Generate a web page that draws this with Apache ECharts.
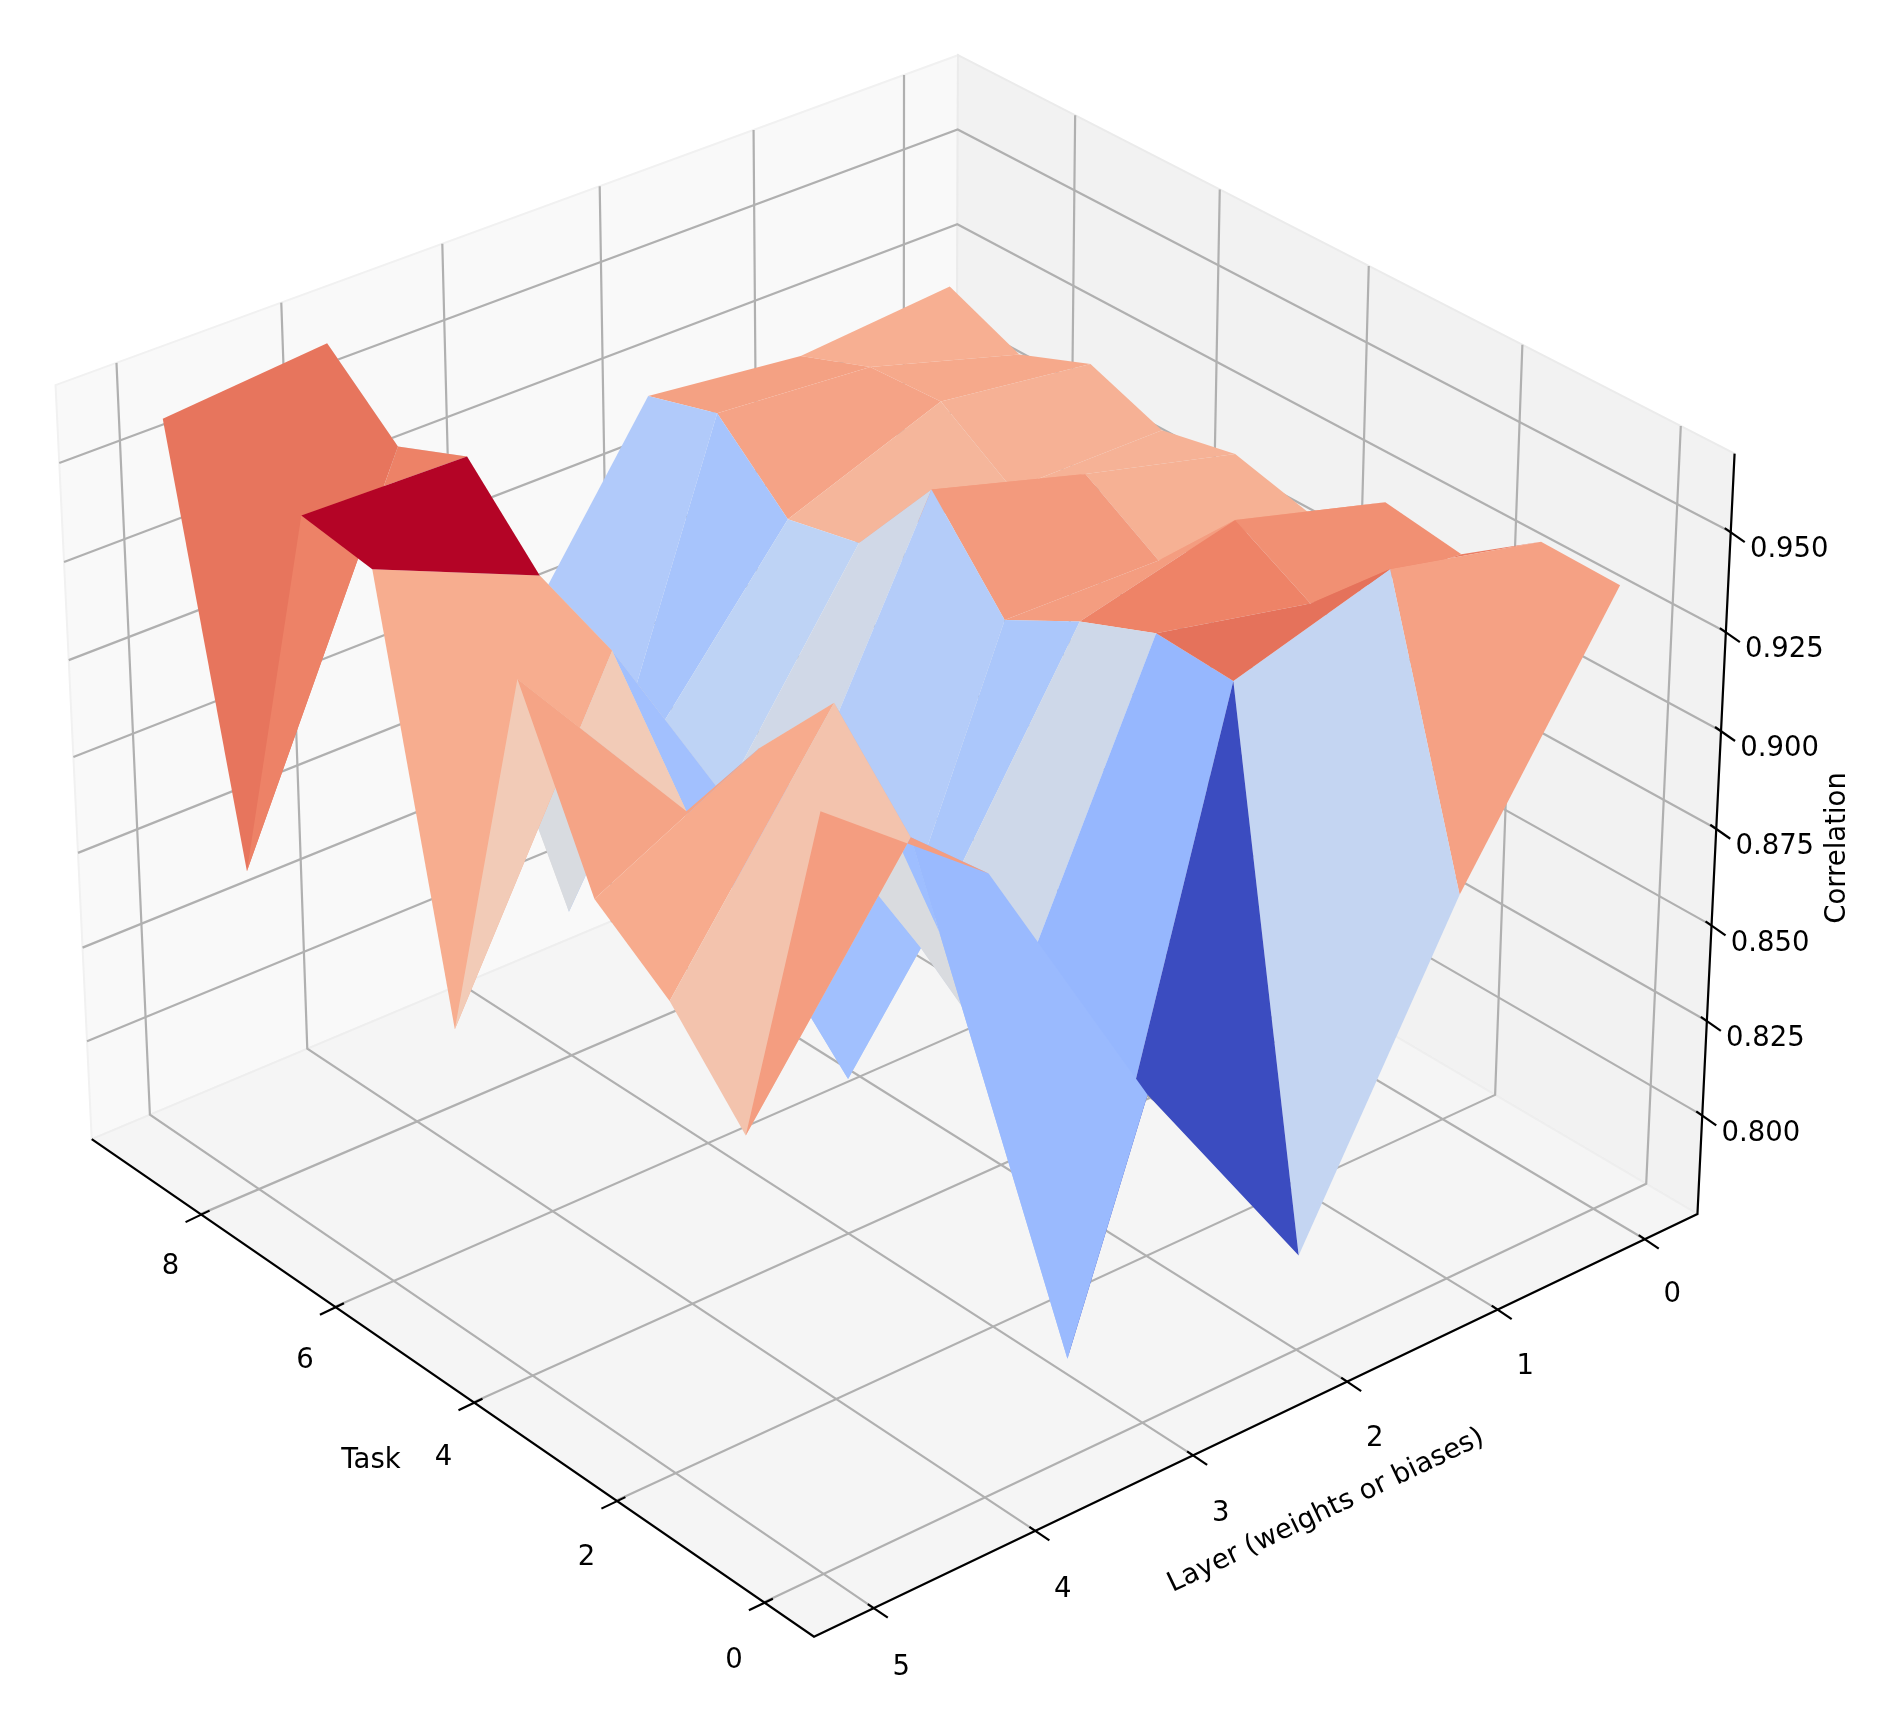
<!DOCTYPE html>
<html>
<head>
<meta charset="utf-8">
<title>Correlation surface</title>
<script src="https://cdn.jsdelivr.net/npm/echarts@6/dist/echarts.min.js"></script>
<style>
  html, body { margin: 0; padding: 0; background: #fff; }
  #chart { width: 1903px; height: 1720px; }
</style>
</head>
<body>
<div id="chart"></div>
<script>
// tick labels
const taskTicks = [0, 2, 4, 6, 8]
const layerTicks = [0, 1, 2, 3, 4, 5]
const corrTicks = [0.8, 0.825, 0.85, 0.875, 0.9, 0.925, 0.95]

// correlation per task (0..9), one list per layer
const tasks = [0, 1, 2, 3, 4, 5, 6, 7, 8, 9]
const layer0 = [0.9355, 0.9359, 0.9222, 0.9250, 0.9119, 0.9168, 0.9127, 0.9199, 0.9124, 0.9204]
const layer1 = [0.8739, 0.9450, 0.9258, 0.9363, 0.9155, 0.9272, 0.9130, 0.9254, 0.9243, 0.9171]
const layer2 = [0.7985, 0.9334, 0.9345, 0.9267, 0.9164, 0.9389, 0.9149, 0.9105, 0.9276, 0.9219]
const layer3 = [0.8584, 0.7777, 0.8452, 0.8606, 0.8147, 0.8595, 0.8561, 0.8616, 0.8126, 0.8631]
const layer4 = [0.9309, 0.9284, 0.9501, 0.9280, 0.9012, 0.9304, 0.9385, 0.9578, 0.9500, 0.9658]
const layer5 = [0.9629, 0.8725, 0.8940, 0.9077, 0.9506, 0.8517, 0.9561, 0.9588, 0.8578, 0.9622]
const surface = [layer0, layer1, layer2, layer3, layer4, layer5]

const coolwarm = ['#3b4cc0', '#5977e3', '#7b9ff9', '#9ebeff', '#c0d4f5', '#dddcdc', '#f2cbb7', '#f7ac8e', '#ee8468', '#d65244', '#b40426']

// axis box of the 3d view
const taskMin = -0.665, taskMax = 9.665
const layerMin = -0.364, layerMax = 5.364
const corrMin = 0.7736, corrMax = 0.9694
const boxX = 1.1905, boxZ = 0.8929

// camera, elev 30 azim 140, distance 10
const elev = 30 * Math.PI / 180
const azim = 140 * Math.PI / 180
const w = [Math.cos(elev) * Math.cos(azim), Math.cos(elev) * Math.sin(azim), Math.sin(elev)]
const u = [-Math.sin(azim), Math.cos(azim), 0]
const v = [w[1] * u[2] - w[2] * u[1], w[2] * u[0] - w[0] * u[2], w[0] * u[1] - w[1] * u[0]]

function view (task, layer, corr) {
  const p = [
    ((task - taskMin) / (taskMax - taskMin) - 0.5) * boxX,
    ((layer - layerMin) / (layerMax - layerMin) - 0.5) * boxX,
    ((corr - corrMin) / (corrMax - corrMin) - 0.5) * boxZ
  ]
  const dot = function (a) { return a[0] * p[0] + a[1] * p[1] + a[2] * p[2] }
  const d = 10 - dot(w)
  return { x: dot(u) / d, y: dot(v) / d, d: d }
}
function project (task, layer, corr) {
  const r = view(task, layer, corr)
  return [r.x, r.y]
}

// surface cells, far ones first like a painter
const cells = []
for (let l = 0; l < surface.length - 1; l++) {
  for (let t = 0; t < tasks.length - 1; t++) {
    const corners = [[t, l], [t + 1, l], [t + 1, l + 1], [t, l + 1]]
    let mean = 0, depth = 0
    corners.forEach(function (c) {
      mean += surface[c[1]][c[0]] / 4
      depth += -1 / view(tasks[c[0]], c[1], surface[c[1]][c[0]]).d / 4
    })
    cells.push({ value: [t, l, mean, depth] })
  }
}
cells.sort(function (a, b) { return b.value[3] - a.value[3] })
const meanMin = Math.min.apply(null, cells.map(function (c) { return c.value[2] }))
const meanMax = Math.max.apply(null, cells.map(function (c) { return c.value[2] }))

const font = '27.5px "DejaVu Sans"'

function polygon (api, pts, fill, stroke) {
  return {
    type: 'polygon',
    shape: { points: pts.map(function (p) { return api.coord(project(p[0], p[1], p[2])) }) },
    style: { fill: fill, stroke: stroke || null, lineWidth: stroke ? 2 : 0 }
  }
}
function line (api, pts, color) {
  return {
    type: 'polyline',
    shape: { points: pts.map(function (p) { return api.coord(project(p[0], p[1], p[2])) }) },
    style: { fill: null, stroke: color, lineWidth: 2.2 }
  }
}
function tick (api, p, out, inn, text, off) {
  const c = api.coord(project(p[0], p[1], p[2]))
  return {
    type: 'group',
    children: [
      { type: 'line', shape: { x1: c[0] + inn[0], y1: c[1] + inn[1], x2: c[0] + out[0], y2: c[1] + out[1] }, style: { stroke: '#000', lineWidth: 2.2 } },
      { type: 'text', x: c[0] + off[0], y: c[1] + off[1], style: { text: text, font: font, fill: '#000', align: 'center', verticalAlign: 'middle' } }
    ]
  }
}

const chart = echarts.init(document.getElementById('chart'))
chart.setOption({
  animation: false,
  backgroundColor: '#fff',
  grid: { left: 0, right: 0, top: 0, bottom: 0 },
  xAxis: { type: 'value', show: false, min: -889.6 / 9787, max: (1903 - 889.6) / 9787 },
  yAxis: { type: 'value', show: false, min: (806.2 - 1720) / 9787, max: 806.2 / 9787 },
  graphic: [
    { type: 'text', x: 371, y: 1461, style: { text: 'Task', font: font, fill: '#000', align: 'center', verticalAlign: 'middle' } },
    { type: 'text', x: 1326, y: 1511, rotation: 0.445, style: { text: 'Layer (weights or biases)', font: font, fill: '#000', align: 'center', verticalAlign: 'middle' } },
    { type: 'text', x: 1838, y: 848, rotation: Math.PI / 2, style: { text: 'Correlation', font: font, fill: '#000', align: 'center', verticalAlign: 'middle' } }
  ],
  series: [
    {
      // walls and floor
      type: 'custom', silent: true, clip: false, data: [[0]],
      renderItem: function (params, api) {
        return {
          type: 'group',
          children: [
            polygon(api, [[taskMax, layerMin, corrMin], [taskMax, layerMax, corrMin], [taskMax, layerMax, corrMax], [taskMax, layerMin, corrMax]], '#f9f9f9', '#f1f1f1'),
            polygon(api, [[taskMin, layerMin, corrMin], [taskMax, layerMin, corrMin], [taskMax, layerMin, corrMax], [taskMin, layerMin, corrMax]], '#f2f2f2', '#ebebeb'),
            polygon(api, [[taskMin, layerMin, corrMin], [taskMax, layerMin, corrMin], [taskMax, layerMax, corrMin], [taskMin, layerMax, corrMin]], '#f5f5f5', '#eeeeee')
          ]
        }
      }
    },
    {
      // grid lines on floor and walls
      type: 'custom', silent: true, clip: false, data: [[0]],
      renderItem: function (params, api) {
        const kids = []
        taskTicks.forEach(function (t) {
          kids.push(line(api, [[t, layerMax, corrMin], [t, layerMin, corrMin], [t, layerMin, corrMax]], '#b0b0b0'))
        })
        layerTicks.forEach(function (l) {
          kids.push(line(api, [[taskMin, l, corrMin], [taskMax, l, corrMin], [taskMax, l, corrMax]], '#b0b0b0'))
        })
        corrTicks.forEach(function (z) {
          kids.push(line(api, [[taskMax, layerMax, z], [taskMax, layerMin, z], [taskMin, layerMin, z]], '#b0b0b0'))
        })
        return { type: 'group', children: kids }
      }
    },
    {
      // axis lines, ticks, tick labels
      type: 'custom', silent: true, clip: false, data: [[0]],
      renderItem: function (params, api) {
        const kids = [
          line(api, [[taskMax, layerMax, corrMin], [taskMin, layerMax, corrMin], [taskMin, layerMin, corrMin], [taskMin, layerMin, corrMax]], '#000')
        ]
        taskTicks.forEach(function (t) {
          kids.push(tick(api, [t, layerMax, corrMin], [-15, 8], [9, -3.5], String(t), [-30, 59 - t * 0.8]))
        })
        layerTicks.forEach(function (l) {
          kids.push(tick(api, [taskMin, l, corrMin], [14, 9.5], [-6, -4], String(l), [27.5, 56 + l * 0.8]))
        })
        corrTicks.forEach(function (z) {
          kids.push(tick(api, [taskMin, layerMin, z], [14, 10], [-6, -4], z.toFixed(3), [58.5, 18]))
        })
        return { type: 'group', children: kids }
      }
    },
    {
      // the surface
      type: 'custom', silent: true, clip: false, data: cells,
      renderItem: function (params, api) {
        const t = api.value(0), l = api.value(1)
        const color = echarts.color.lerp((api.value(2) - meanMin) / (meanMax - meanMin), coolwarm)
        return polygon(api, [
          [tasks[t], l, surface[l][t]],
          [tasks[t + 1], l, surface[l][t + 1]],
          [tasks[t + 1], l + 1, surface[l + 1][t + 1]],
          [tasks[t], l + 1, surface[l + 1][t]]
        ], color)
      }
    }
  ]
})
</script>
</body>
</html>
